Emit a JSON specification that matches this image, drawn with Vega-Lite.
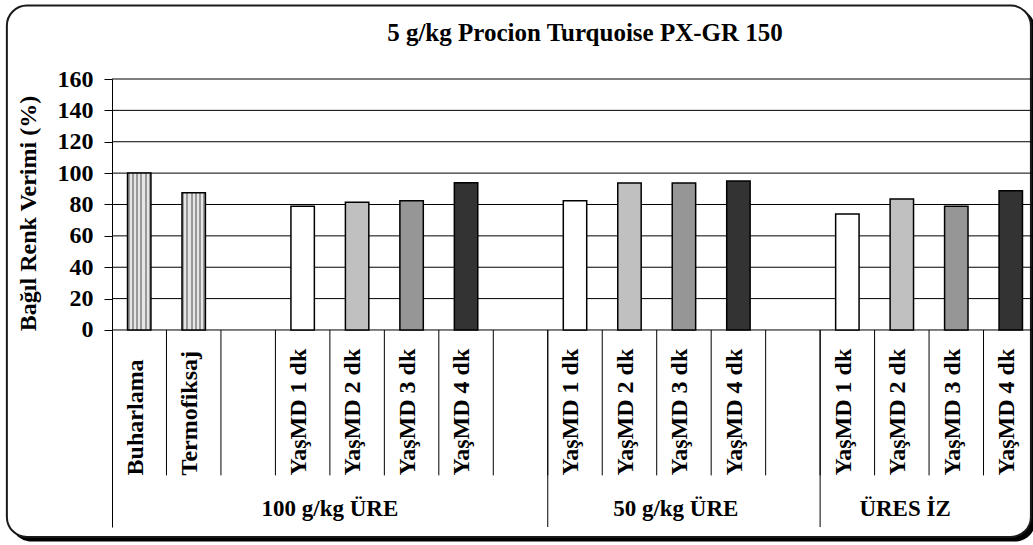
{
  "$schema": "https://vega.github.io/schema/vega-lite/v6.json",
  "width": 926,
  "height": 448,
  "autosize": {"type": "none"},
  "padding": {"left": 112, "top": 79, "right": -5, "bottom": 18},
  "background": "#ffffff",
  "title": {
    "text": "5 g/kg Procion Turquoise  PX-GR 150",
    "font": "Liberation Serif",
    "fontSize": 25,
    "fontWeight": "bold",
    "color": "#000000",
    "anchor": "middle",
    "frame": "group",
    "baseline": "alphabetic",
    "offset": -61.5,
    "dx": 10,
    "zindex": 1
  },
  "config": {
    "view": {"stroke": null},
    "axisY": {
      "labelFont": "Liberation Serif",
      "labelFontSize": 24,
      "labelFontWeight": "bold",
      "labelColor": "#000000",
      "labelPadding": 11,
      "tickSize": 8,
      "tickColor": "#000000",
      "tickWidth": 1,
      "domainColor": "#000000",
      "domainWidth": 1,
      "titleFont": "Liberation Serif",
      "titleFontSize": 24,
      "titleFontWeight": "bold",
      "titleColor": "#000000",
      "titlePadding": 17,
      "grid": false
    }
  },
  "datasets": {
    "slots": [
      {"id": "01", "label": "Buharlama", "group": "100 g/kg ÜRE", "value": 100},
      {"id": "02", "label": "Termofiksaj", "group": "100 g/kg ÜRE", "value": 87.5},
      {"id": "03", "label": "", "group": "100 g/kg ÜRE", "value": null},
      {"id": "04", "label": "YaşMD 1 dk", "group": "100 g/kg ÜRE", "value": 78.8},
      {"id": "05", "label": "YaşMD 2 dk", "group": "100 g/kg ÜRE", "value": 81.4},
      {"id": "06", "label": "YaşMD 3 dk", "group": "100 g/kg ÜRE", "value": 82.4},
      {"id": "07", "label": "YaşMD 4 dk", "group": "100 g/kg ÜRE", "value": 93.9},
      {"id": "08", "label": "", "group": "100 g/kg ÜRE", "value": null},
      {"id": "09", "label": "YaşMD 1 dk", "group": "50 g/kg ÜRE", "value": 82.4},
      {"id": "10", "label": "YaşMD 2 dk", "group": "50 g/kg ÜRE", "value": 93.7},
      {"id": "11", "label": "YaşMD 3 dk", "group": "50 g/kg ÜRE", "value": 93.7},
      {"id": "12", "label": "YaşMD 4 dk", "group": "50 g/kg ÜRE", "value": 95},
      {"id": "13", "label": "", "group": "50 g/kg ÜRE", "value": null},
      {"id": "14", "label": "YaşMD 1 dk", "group": "ÜRES İZ", "value": 73.9},
      {"id": "15", "label": "YaşMD 2 dk", "group": "ÜRES İZ", "value": 83.5},
      {"id": "16", "label": "YaşMD 3 dk", "group": "ÜRES İZ", "value": 78.8},
      {"id": "17", "label": "YaşMD 4 dk", "group": "ÜRES İZ", "value": 88.8}
    ],
    "grid": [
      {"v": 0}, {"v": 20}, {"v": 40}, {"v": 60}, {"v": 80},
      {"v": 100}, {"v": 120}, {"v": 140}, {"v": 160}
    ]
  },
  "resolve": {"scale": {"x": "independent"}, "axis": {"x": "independent"}},
  "layer": [
    {
      "data": {"values": [{"part": "frame"}]},
      "layer": [
        {
          "mark": {"type": "rect", "fill": "#000000", "cornerRadius": 20},
          "encoding": {
            "x": {"datum": -1.85, "type": "quantitative", "scale": {"domain": [0, 17], "nice": false, "zero": false}, "axis": null},
            "x2": {"datum": 16.95},
            "y": {"datum": 204.6, "type": "quantitative", "scale": {"domain": [-125.6, 160], "nice": false, "zero": false}},
            "y2": {"datum": -134.8}
          }
        },
        {
          "mark": {"type": "rect", "fill": "#ffffff", "stroke": "#1a1a1a", "strokeWidth": 2, "cornerRadius": 20},
          "encoding": {
            "x": {"datum": -1.93, "type": "quantitative", "scale": {"domain": [0, 17], "nice": false, "zero": false}, "axis": null},
            "x2": {"datum": 16.87},
            "y": {"datum": 206.8, "type": "quantitative", "scale": {"domain": [-125.6, 160], "nice": false, "zero": false}},
            "y2": {"datum": -131.9}
          }
        }
      ]
    },
    {
      "data": {"name": "slots"},
      "layer": [
        {
          "data": {"name": "grid"},
          "mark": {"type": "rule", "color": "#000000", "strokeWidth": 1},
          "encoding": {
            "y": {
              "field": "v", "type": "quantitative",
              "scale": {"domain": [-125.6, 160], "nice": false, "zero": false},
              "axis": {"values": [0, 20, 40, 60, 80, 100, 120, 140, 160], "title": "Bağıl Renk Verimi (%)", "grid": false, "zindex": 1, "titleY": 134}
            }
          }
        },
        {
          "transform": [{"filter": "datum.id != '01'"}],
          "mark": {"type": "rule", "color": "#000000", "strokeWidth": 1},
          "encoding": {
            "x": {"field": "id", "type": "ordinal", "bandPosition": 0, "axis": null,
                  "scale": {"type": "band", "domain": ["01","02","03","04","05","06","07","08","09","10","11","12","13","14","15","16","17"], "paddingInner": 0, "paddingOuter": 0}},
            "y": {"datum": 0, "type": "quantitative"},
            "y2": {"datum": -92.7}
          }
        },
        {
          "transform": [{"filter": "datum.id == '09' || datum.id == '14'"}],
          "mark": {"type": "rule", "color": "#000000", "strokeWidth": 1},
          "encoding": {
            "x": {"field": "id", "type": "ordinal", "bandPosition": 0, "axis": null,
                  "scale": {"type": "band", "domain": ["01","02","03","04","05","06","07","08","09","10","11","12","13","14","15","16","17"], "paddingInner": 0, "paddingOuter": 0}},
            "y": {"datum": 0, "type": "quantitative"},
            "y2": {"datum": -125.6}
          }
        },
        {
          "transform": [{"filter": "datum.label == 'Buharlama' || datum.label == 'Termofiksaj'"}],
          "mark": {
            "type": "bar",
            "width": {"band": 0.43},
            "stroke": "#000000",
            "strokeWidth": 1.5,
            "fill": {
              "gradient": "linear", "x1": 0, "y1": 0, "x2": 1, "y2": 0,
              "stops": [
                {"offset": 0, "color": "#999999"}, {"offset": 0.0909, "color": "#999999"},
                {"offset": 0.0909, "color": "#e6e6e6"}, {"offset": 0.1818, "color": "#e6e6e6"},
                {"offset": 0.1818, "color": "#999999"}, {"offset": 0.2727, "color": "#999999"},
                {"offset": 0.2727, "color": "#e6e6e6"}, {"offset": 0.3636, "color": "#e6e6e6"},
                {"offset": 0.3636, "color": "#999999"}, {"offset": 0.4545, "color": "#999999"},
                {"offset": 0.4545, "color": "#e6e6e6"}, {"offset": 0.5455, "color": "#e6e6e6"},
                {"offset": 0.5455, "color": "#999999"}, {"offset": 0.6364, "color": "#999999"},
                {"offset": 0.6364, "color": "#e6e6e6"}, {"offset": 0.7273, "color": "#e6e6e6"},
                {"offset": 0.7273, "color": "#999999"}, {"offset": 0.8182, "color": "#999999"},
                {"offset": 0.8182, "color": "#e6e6e6"}, {"offset": 0.9091, "color": "#e6e6e6"},
                {"offset": 0.9091, "color": "#999999"}, {"offset": 1, "color": "#999999"}
              ]
            }
          },
          "encoding": {
            "x": {"field": "id", "type": "ordinal", "axis": null,
                  "scale": {"type": "band", "domain": ["01","02","03","04","05","06","07","08","09","10","11","12","13","14","15","16","17"], "paddingInner": 0, "paddingOuter": 0}},
            "y": {"field": "value", "type": "quantitative", "title": "Bağıl Renk Verimi (%)"}
          }
        },
        {
          "transform": [{"filter": "isValid(datum.value) && datum.label != 'Buharlama' && datum.label != 'Termofiksaj'"}],
          "mark": {"type": "bar", "width": {"band": 0.43}, "stroke": "#000000", "strokeWidth": 1.5},
          "encoding": {
            "x": {"field": "id", "type": "ordinal", "axis": null,
                  "scale": {"type": "band", "domain": ["01","02","03","04","05","06","07","08","09","10","11","12","13","14","15","16","17"], "paddingInner": 0, "paddingOuter": 0}},
            "y": {"field": "value", "type": "quantitative", "title": "Bağıl Renk Verimi (%)"},
            "color": {
              "field": "label", "type": "nominal", "legend": null,
              "scale": {"domain": ["YaşMD 1 dk", "YaşMD 2 dk", "YaşMD 3 dk", "YaşMD 4 dk"], "range": ["#ffffff", "#c0c0c0", "#969696", "#333333"]}
            }
          }
        },
        {
          "mark": {"type": "text", "angle": 270, "align": "left", "baseline": "alphabetic", "font": "Liberation Serif", "fontSize": 24, "fontWeight": "bold", "color": "#000000"},
          "encoding": {
            "x": {"field": "id", "type": "ordinal", "bandPosition": 0.56, "axis": null,
                  "scale": {"type": "band", "domain": ["01","02","03","04","05","06","07","08","09","10","11","12","13","14","15","16","17"], "paddingInner": 0, "paddingOuter": 0}},
            "y": {"datum": -92.7, "type": "quantitative"},
            "text": {"field": "label", "type": "nominal"}
          }
        },
        {
          "transform": [{"filter": "datum.id == '05'"}],
          "mark": {"type": "text", "align": "center", "baseline": "alphabetic", "font": "Liberation Serif", "fontSize": 23, "fontWeight": "bold", "color": "#000000"},
          "encoding": {
            "x": {"field": "id", "type": "ordinal", "bandPosition": 0, "axis": null,
                  "scale": {"type": "band", "domain": ["01","02","03","04","05","06","07","08","09","10","11","12","13","14","15","16","17"], "paddingInner": 0, "paddingOuter": 0}},
            "y": {"datum": -118.5, "type": "quantitative"},
            "text": {"field": "group", "type": "nominal"}
          }
        },
        {
          "transform": [{"filter": "datum.id == '11'"}],
          "mark": {"type": "text", "align": "center", "baseline": "alphabetic", "font": "Liberation Serif", "fontSize": 23, "fontWeight": "bold", "color": "#000000"},
          "encoding": {
            "x": {"field": "id", "type": "ordinal", "bandPosition": 0.35, "axis": null,
                  "scale": {"type": "band", "domain": ["01","02","03","04","05","06","07","08","09","10","11","12","13","14","15","16","17"], "paddingInner": 0, "paddingOuter": 0}},
            "y": {"datum": -118.5, "type": "quantitative"},
            "text": {"field": "group", "type": "nominal"}
          }
        },
        {
          "transform": [{"filter": "datum.id == '15'"}],
          "mark": {"type": "text", "align": "center", "baseline": "alphabetic", "font": "Liberation Serif", "fontSize": 23, "fontWeight": "bold", "color": "#000000"},
          "encoding": {
            "x": {"field": "id", "type": "ordinal", "bandPosition": 0.56, "axis": null,
                  "scale": {"type": "band", "domain": ["01","02","03","04","05","06","07","08","09","10","11","12","13","14","15","16","17"], "paddingInner": 0, "paddingOuter": 0}},
            "y": {"datum": -118.5, "type": "quantitative"},
            "text": {"field": "group", "type": "nominal"}
          }
        }
      ]
    }
  ]
}
